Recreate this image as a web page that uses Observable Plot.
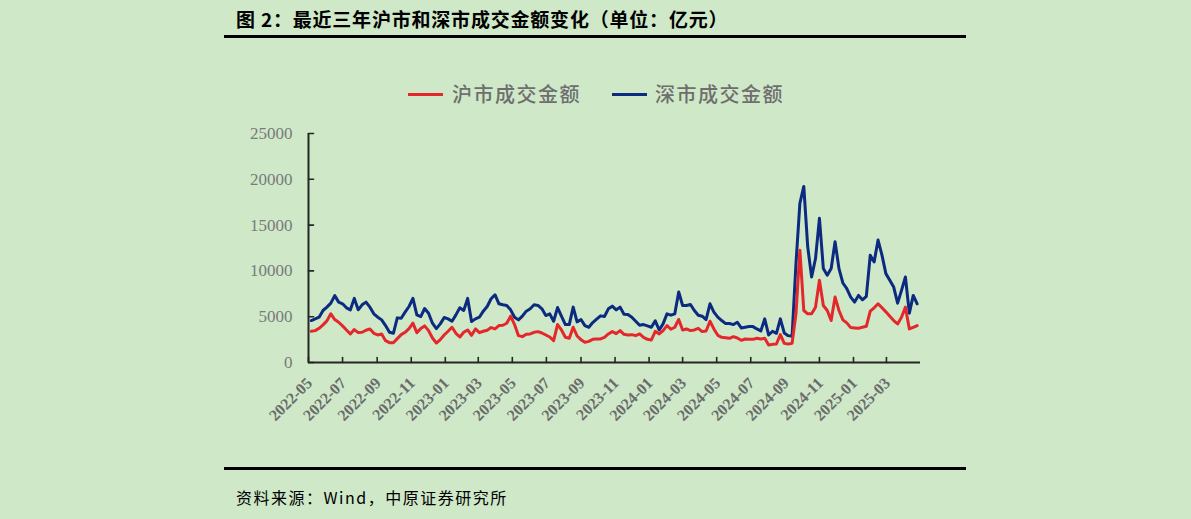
<!DOCTYPE html>
<html><head><meta charset="utf-8">
<script src="https://cdn.jsdelivr.net/npm/d3@7"></script>
<script src="https://cdn.jsdelivr.net/npm/@observablehq/plot@0.6"></script>
<style>
html,body{margin:0;padding:0;background:#cee8c8;width:1191px;height:519px;overflow:hidden;}
#page{position:relative;width:1191px;height:519px;}
.title{position:absolute;left:236px;top:9px;font-family:"Noto Sans CJK SC";font-weight:bold;font-size:19px;line-height:20px;letter-spacing:0.8px;color:#000;white-space:nowrap;}
.rule{position:absolute;left:224px;width:742px;height:3px;background:#000;}
.legend{position:absolute;top:84px;height:20px;font-family:"Noto Sans CJK SC";font-weight:500;font-size:20px;line-height:20px;letter-spacing:1.5px;color:#6e6e6e;white-space:nowrap;}
.sw{position:absolute;top:9px;height:3px;}
.source{position:absolute;left:236px;top:487px;font-family:"Noto Sans CJK SC";font-size:16px;line-height:20px;letter-spacing:1.5px;color:#000;white-space:nowrap;}
#chart{position:absolute;left:0;top:120px;}
</style>
</head>
<body>
<div id="page">
  <div class="title">图 2：最近三年沪市和深市成交金额变化（单位：亿元）</div>
  <div class="rule" style="top:35px"></div>
  <div id="legend"></div>
  <div id="chart"></div>
  <div class="rule" style="top:467px"></div>
  <div class="source">资料来源：Wind，中原证券研究所</div>
</div>
<script>
// ---- data (weekly readings, 亿元) ----
const seriesNames = ["沪市成交金额", "深市成交金额"];
const seriesColors = ["#e4272b", "#0b2a80"];
const firstWeek = "2022-05-06";
const shValues = [
3408,3481,3737,4103,4542,5311,4689,4396,3994,3554,3115,3591,3262,3298,3518,3664,3188,3005,3115,2383,
2163,2163,2603,3042,3298,3700,4300,3262,3700,3994,3481,2676,2127,2493,3005,3408,3847,3188,2786,3298,
3554,2968,3664,3262,3408,3518,3811,3664,4030,4067,4286,5055,4140,2932,2822,3078,3115,3298,3371,3225,
3005,2786,2383,4140,3554,2749,2639,3847,2895,2493,2200,2310,2529,2566,2566,2749,3115,3371,3152,3481,
3078,3005,3042,2932,3115,2749,2529,2456,3408,3115,3481,4030,3627,3847,4700,3554,3664,3481,3554,3737,
3371,3444,4506,3664,2968,2749,2712,2639,2822,2676,2420,2566,2529,2529,2639,2566,2639,1907,1980,2017,
3042,2090,2017,2090,5311,12265,5677,5311,5311,6043,8971,6226,5677,4579,7141,5677,4652,4323,3811,3774,
3737,3847,3957,5604,5970,6409,5970,5531,5055,4579,4213,4945,6043,3664,3847,4030];
const szValues = [
4579,4762,4945,5677,6043,6482,7300,6592,6409,5970,5750,7000,5750,6299,6592,6043,5311,4945,4652,4030,
3298,3188,4872,4835,5494,6116,7000,5201,5018,5897,5384,4286,3701,4213,4908,4762,4506,5201,5970,5677,
7000,4469,4762,4945,5604,6116,6958,7400,6409,6299,6226,5750,4945,4652,5055,5604,5860,6299,6226,5860,
5128,5311,4506,6000,5055,4140,4140,6043,4433,4689,4030,3847,4359,4725,5091,5018,5860,6152,5750,6043,
5274,5238,4945,4506,4067,4140,3994,3847,4542,3554,4213,5311,5165,5311,7700,6226,6226,6336,5677,5165,
5055,4689,6409,5494,4945,4579,4250,4250,4140,4396,3774,3847,3920,3920,3664,3444,4762,3005,3408,3188,
4762,3225,2932,2859,10801,17389,19219,12631,9337,11350,15742,10252,9520,10252,13180,10252,8678,8056,7141,6592,
7324,6848,7215,11716,10984,13363,11716,9703,8971,8239,6482,7873,9337,5384,7324,6409];
const xTickLabels = ["2022-05","2022-07","2022-09","2022-11","2023-01","2023-03","2023-05","2023-07","2023-09",
  "2023-11","2024-01","2024-03","2024-05","2024-07","2024-09","2024-11","2025-01","2025-03"];
const yTicks = [0, 5000, 10000, 15000, 20000, 25000];
const xDomain = ["2022-05-01", "2025-05-01"];

// ---- build ----
const start = new Date(firstWeek);
const dates = shValues.map((_, i) => d3.utcDay.offset(start, 7 * i));
const rows = [];
dates.forEach((d, i) => rows.push({date: d, value: shValues[i], s: seriesNames[0]}));
dates.forEach((d, i) => rows.push({date: d, value: szValues[i], s: seriesNames[1]}));
const parseM = d3.utcParse("%Y-%m");
const xTicks = xTickLabels.map(l => ({date: parseM(l), label: l}));
const axisColor = "#262626";
const tickShape = {draw(ctx, l) { ctx.moveTo(0, 0); ctx.lineTo(0, -l); }};

const chart = Plot.plot({
  width: 1191, height: 330,
  marginLeft: 308, marginRight: 271, marginTop: 13, marginBottom: 88,
  x: {type: "utc", domain: xDomain.map(s => new Date(s)), axis: null},
  y: {domain: [0, 25000], axis: null},
  style: {background: "transparent", fontFamily: "Liberation Serif", overflow: "visible"},
  marks: [
    Plot.line(rows.filter(r => r.s === seriesNames[1]), {x: "date", y: "value", stroke: seriesColors[1], strokeWidth: 3, strokeLinejoin: "round"}),
    Plot.line(rows.filter(r => r.s === seriesNames[0]), {x: "date", y: "value", stroke: seriesColors[0], strokeWidth: 3, strokeLinejoin: "round"}),
    Plot.ruleX([new Date(xDomain[0])], {stroke: axisColor, strokeWidth: 2}),
    Plot.ruleY([0], {stroke: axisColor, strokeWidth: 2}),
    Plot.vector(xTicks, {x: "date", frameAnchor: "bottom", length: 5, rotate: 0, anchor: "start", shape: tickShape, stroke: axisColor, strokeWidth: 1.6}),
    Plot.vector(yTicks, {y: d => d, frameAnchor: "left", length: 5, rotate: 90, anchor: "start", shape: tickShape, stroke: axisColor, strokeWidth: 1.6}),
    Plot.text(xTicks, {x: "date", frameAnchor: "bottom", text: "label", rotate: -45, textAnchor: "end", lineAnchor: "middle", dy: 18, dx: 1, fontSize: 16, fontWeight: "bold", fill: "#6b6b6b"}),
    Plot.text(yTicks, {y: d => d, frameAnchor: "left", text: d => String(d), textAnchor: "end", dx: -16, fontSize: 17, fill: "#7a7a7a"})
  ]
});
document.getElementById("chart").appendChild(chart);

// legend
const legend = document.getElementById("legend");
const legendPos = [{sw: 408, tx: 452}, {sw: 612, tx: 655}];
seriesNames.forEach((n, i) => {
  const g = document.createElement("div");
  g.className = "legend";
  g.style.left = legendPos[i].sw + "px";
  g.style.width = "200px";
  const sw = document.createElement("div");
  sw.className = "sw";
  sw.style.left = "0px"; sw.style.width = "35px"; sw.style.background = seriesColors[i];
  const t = document.createElement("span");
  t.style.position = "absolute"; t.style.left = (legendPos[i].tx - legendPos[i].sw) + "px";
  t.textContent = n;
  g.appendChild(sw); g.appendChild(t);
  legend.appendChild(g);
});
</script>
</body></html>
